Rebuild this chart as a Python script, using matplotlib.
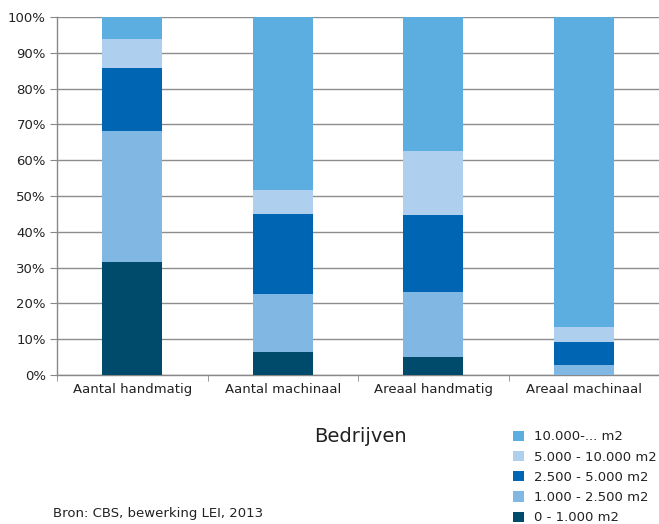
import numpy as np
import matplotlib
matplotlib.use('Agg')
import matplotlib.pyplot as plt

categories = ['Aantal handmatig', 'Aantal machinaal', 'Areaal handmatig', 'Areaal machinaal']
klassen = ['0 - 1.000 m2', '1.000 - 2.500 m2', '2.500 - 5.000 m2', '5.000 - 10.000 m2', '10.000-... m2']
s0 = [31.6, 6.4, 5.0, 0.0]
s1 = [36.6, 16.2, 18.2, 2.8]
s2 = [17.6, 22.4, 21.5, 6.5]
s3 = [8.1, 6.7, 17.9, 4.2]
s4 = [6.1, 48.3, 37.4, 86.5]
colors = ['#004b6b', '#80b8e3', '#0066b3', '#aed0ee', '#5daee0']

plt.rcParams['font.family'] = 'DejaVu Sans'
fig = plt.figure(figsize=(6.59, 5.24), dpi=100)
ax = fig.add_axes([57/659., 1-375/524., 1-57/659., (375-17)/524.])

x = np.arange(len(categories))
bottom = np.zeros(len(categories))
handles = []
for vals, c, lab in zip([s0, s1, s2, s3, s4], colors, klassen):
    b = ax.bar(x, vals, 0.4, bottom=bottom, color=c, label=lab, zorder=3)
    handles.append(b)
    bottom += np.array(vals)

ax.set_xlim(-0.5, 3.5)
ax.set_ylim(0, 100)
ax.set_yticks(np.arange(0, 101, 10))
ax.set_yticklabels([str(v) + '%' for v in range(0, 101, 10)], fontsize=9.5, color='#222222')
ax.set_xticks(x)
ax.set_xticklabels(categories, fontsize=9.5, color='#222222')
ax.set_xticks(np.arange(-0.5, 3.6, 1), minor=True)
ax.tick_params(axis='x', which='major', length=0, pad=6)
ax.tick_params(axis='x', which='minor', length=4, color='#888888')
ax.tick_params(axis='y', length=5, color='#888888', pad=3)
ax.yaxis.grid(True, color='#8c8c8c', linewidth=1.0, zorder=0)
ax.set_axisbelow(True)
for s in ['top', 'right']:
    ax.spines[s].set_visible(False)
for s in ['left', 'bottom']:
    ax.spines[s].set_color('#888888')
    ax.spines[s].set_linewidth(1.0)

fig.text(360/659., 1-437/524., 'Bedrijven', fontsize=14, ha='center', va='center', color='#222222')
fig.text(53/659., 1-514/524., 'Bron: CBS, bewerking LEI, 2013', fontsize=9.5, ha='left', va='center', color='#222222')

leg = fig.legend(handles[::-1], klassen[::-1], loc='upper left', bbox_to_anchor=(508/659., 1-425/524.),
                 frameon=False, fontsize=9.5, handlelength=0.8, handleheight=0.8,
                 labelspacing=0.55, handletextpad=0.8, borderaxespad=0)
for t in leg.get_texts():
    t.set_color('#222222')

plt.savefig('out.png', dpi=100)
